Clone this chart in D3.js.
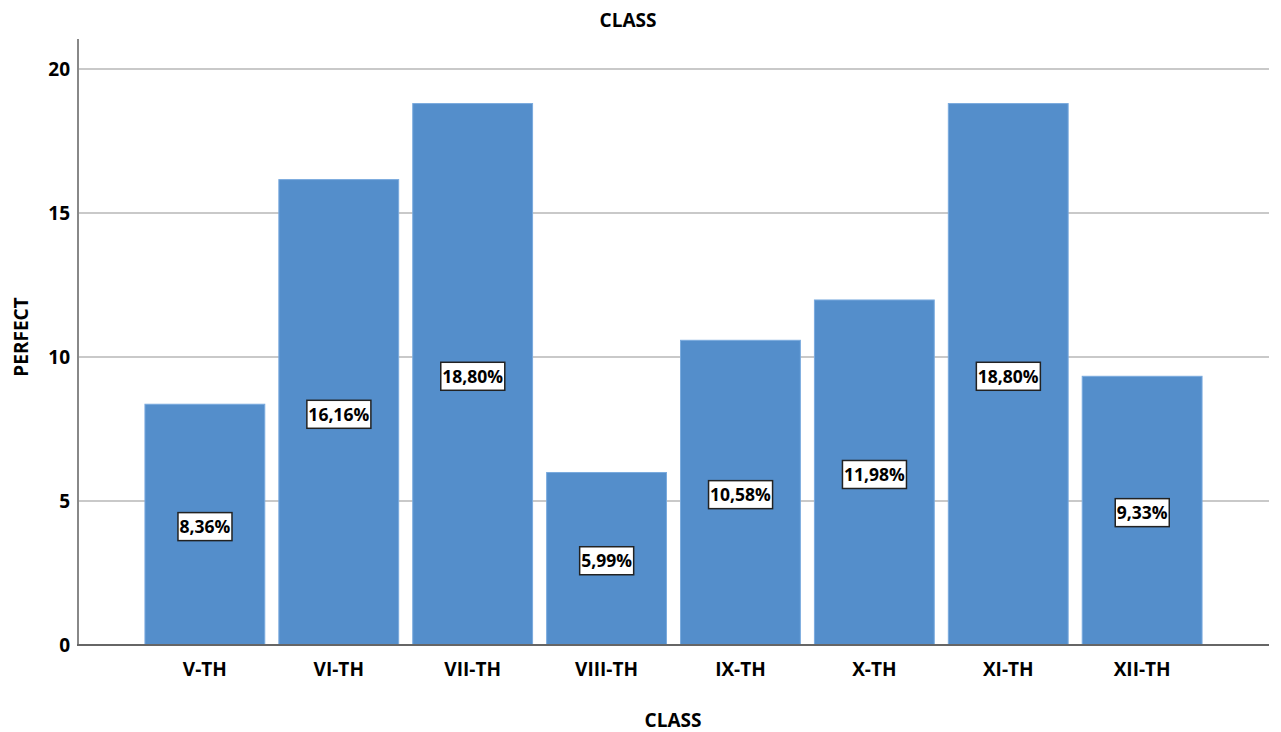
<!DOCTYPE html>
<html>
<head>
<meta charset="utf-8">
<script src="https://cdn.jsdelivr.net/npm/d3@7"></script>
<style>
  html, body { margin: 0; padding: 0; background: #fff; }
  svg { display: block; font-family: "Open Sans", "Noto Sans", sans-serif; }
</style>
</head>
<body>
<svg id="chart" width="1281" height="732"></svg>
<script>
// Share of "PERFECT" responses by class
const classes = ["V-TH", "VI-TH", "VII-TH", "VIII-TH", "IX-TH", "X-TH", "XI-TH", "XII-TH"];
const perfect = [8.36, 16.16, 18.80, 5.99, 10.58, 11.98, 18.80, 9.33];
const yTicks = [0, 5, 10, 15, 20];

const svg = d3.select("#chart");
const plotLeft = 78, plotRight = 1269, plotTop = 39, plotBottom = 645;
const axisFont = 19;

const x = d3.scaleBand().domain(classes).range([plotLeft, plotRight])
  .paddingInner(0.105).paddingOuter(0.5);
const y = d3.scaleLinear().domain([0, 21]).range([plotBottom, plotBottom - 21 * 28.8]);

// gridlines
svg.append("g")
  .selectAll("line").data(yTicks.filter(d => d > 0)).join("line")
  .attr("x1", plotLeft).attr("x2", plotRight)
  .attr("y1", d => y(d)).attr("y2", d => y(d))
  .attr("stroke", "#c9c9c9").attr("stroke-width", 2);

// bars
svg.append("g")
  .selectAll("rect").data(classes).join("rect")
  .attr("x", d => x(d)).attr("width", x.bandwidth())
  .attr("y", (d, i) => y(perfect[i]))
  .attr("height", (d, i) => y(0) - y(perfect[i]))
  .attr("fill", "#548ecb").attr("stroke", "#7aaade").attr("stroke-width", 1);

// axes
const yAxis = svg.append("g").attr("transform", `translate(${plotLeft},0)`)
  .call(d3.axisLeft(y).tickValues(yTicks).tickSize(0).tickPadding(8));
yAxis.select(".domain").remove();
yAxis.selectAll("text").attr("font-size", axisFont).attr("font-weight", "bold").attr("fill", "#000")
  .attr("font-family", "'Open Sans', sans-serif");
svg.append("line").attr("x1", plotLeft).attr("x2", plotLeft).attr("y1", plotTop).attr("y2", plotBottom + 1)
  .attr("stroke", "#888").attr("stroke-width", 2);

const xAxis = svg.append("g").attr("transform", `translate(0,${plotBottom})`)
  .call(d3.axisBottom(x).tickSize(0).tickPadding(18));
xAxis.select(".domain").remove();
xAxis.selectAll("text").attr("font-size", axisFont).attr("font-weight", "bold").attr("fill", "#000")
  .attr("font-family", "'Open Sans', sans-serif");
svg.append("line").attr("x1", plotLeft - 1).attr("x2", plotRight).attr("y1", plotBottom).attr("y2", plotBottom)
  .attr("stroke", "#666").attr("stroke-width", 2);

// value labels at mid-height of each bar
const labels = svg.append("g").selectAll("g").data(classes).join("g")
  .attr("transform", (d, i) => `translate(${x(d) + x.bandwidth() / 2},${y(perfect[i] / 2) + 2})`);
labels.append("text")
  .attr("text-anchor", "middle").attr("dy", "0.36em")
  .attr("font-size", 17.5).attr("font-weight", "bold").attr("fill", "#000")
  .text((d, i) => perfect[i].toFixed(2).replace(".", ",") + "%");
labels.each(function () {
  const g = d3.select(this);
  const bb = g.select("text").node().getBBox();
  g.insert("rect", "text")
    .attr("x", bb.x - 1.5).attr("y", -14)
    .attr("width", bb.width + 3).attr("height", 28)
    .attr("fill", "#fff").attr("stroke", "#222").attr("stroke-width", 1.5);
});

// titles
svg.append("text").attr("x", 628).attr("y", 27).attr("text-anchor", "middle")
  .attr("font-size", axisFont).attr("font-weight", "bold").text("CLASS");
svg.append("text").attr("x", 673).attr("y", 727).attr("text-anchor", "middle")
  .attr("font-size", axisFont).attr("font-weight", "bold").text("CLASS");
svg.append("text").attr("transform", "translate(28,337) rotate(-90)").attr("text-anchor", "middle")
  .attr("font-size", axisFont).attr("font-weight", "bold").text("PERFECT");
</script>
</body>
</html>
